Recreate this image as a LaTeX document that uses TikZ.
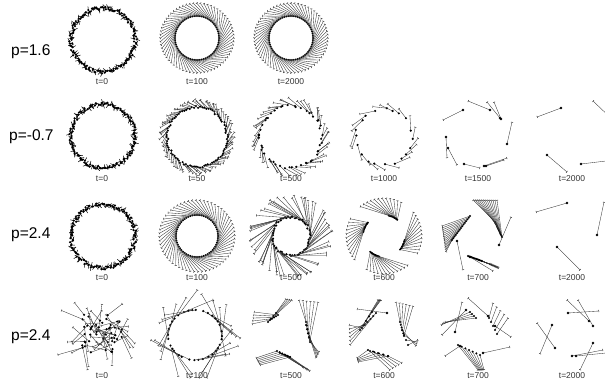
\documentclass[tikz,border=0pt]{standalone}
\usepackage{fontspec}
\setmainfont{Liberation Sans}
\usetikzlibrary{arrows.meta}
\tikzset{
  stick/.style={line width=0.35pt, draw=black!80, -{Bar[width=2.2pt,line width=0.5pt]}},
  fuzz/.style={line width=0.5pt, draw=black},
  plabel/.style={font=\fontsize{15.5}{18}\selectfont, anchor=west, inner sep=0pt},
  tlabel/.style={font=\fontsize{8.5}{10}\selectfont, text=black!80, inner sep=0pt}
}
% one pendulum: pivot (#1,#2), tip (#3,#4)
\newcommand{\pend}[4]{%
  \draw[stick] (#1,#2) -- (#3,#4);
  \fill (#1,#2) circle (1.3pt);}
% t=0 rings: cx cy
\newcommand{\noisyring}[2]{%
  \foreach \i in {1,...,150}{%
    \pgfmathsetmacro\ang{(360/150)*\i+1.5*rand}
    \pgfmathsetmacro\rdist{32+1.6*rand}
    \pgfmathsetmacro\sdir{360*rnd}
    \pgfmathsetmacro\px{#1+\rdist*cos(\ang)}
    \pgfmathsetmacro\py{#2+\rdist*sin(\ang)}
    \draw[fuzz] (\px,\py) -- ++({3.6*cos(\sdir)},{3.6*sin(\sdir)});
    \fill (\px,\py) circle (1.2pt);
  }}
% cx cy n rin rout twist
\newcommand{\spiralring}[6]{%
  \foreach \i in {1,...,#3}{%
    \pgfmathsetmacro\ang{(360/#3)*\i}
    \pgfmathsetmacro\px{#1+#4*cos(\ang)}
    \pgfmathsetmacro\py{#2+#4*sin(\ang)}
    \pgfmathsetmacro\tang{\ang-#6}
    \draw[stick] (\px,\py) -- ({#1+#5*cos(\tang)},{#2+#5*0.95*sin(\tang)});
    \fill (\px,\py) circle (1.1pt);
  }}
% cx cy n rin rout twist jitter
\newcommand{\jitterring}[7]{%
  \foreach \i in {1,...,#3}{%
    \pgfmathsetmacro\ang{(360/#3)*\i+#7*rand}
    \pgfmathsetmacro\rdist{#4+1.2*rand}
    \pgfmathsetmacro\px{#1+\rdist*cos(\ang)}
    \pgfmathsetmacro\py{#2+\rdist*sin(\ang)}
    \pgfmathsetmacro\tang{\ang-#6-0.2*#6*rand}
    \pgfmathsetmacro\trad{#5+2*rand}
    \draw[stick] (\px,\py) -- ({#1+\trad*cos(\tang)},{#2+\trad*sin(\tang)});
    \fill (\px,\py) circle (1.2pt);
  }}
% cx cy groups per rin rout twist base
\newcommand{\fanring}[8]{%
  \foreach \g in {1,...,#3}{%
    \foreach \k in {1,...,#4}{%
      \pgfmathsetmacro\ang{#8+(360/#3)*\g+\k*2.5+1.5*rand}
      \pgfmathsetmacro\px{#1+#5*cos(\ang)}
      \pgfmathsetmacro\py{#2+#5*sin(\ang)}
      \pgfmathsetmacro\tang{#8+(360/#3)*\g-#7+\k*6}
      \draw[stick] (\px,\py) -- ({#1+#6*cos(\tang)},{#2+#6*sin(\tang)});
      \fill (\px,\py) circle (1.1pt);
    }}}
% pivots p1->p2, tips t1->t2, count
\newcommand{\fan}[9]{%
  \foreach \k in {0,...,#9}{%
    \pgfmathsetmacro\ff{\k/#9}
    \pgfmathsetmacro\px{#1+(#3-#1)*\ff}
    \pgfmathsetmacro\py{#2+(#4-#2)*\ff}
    \draw[stick] (\px,\py) -- ({#5+(#7-#5)*\ff},{#6+(#8-#6)*\ff});
    \fill (\px,\py) circle (1.1pt);
  }}
% cx cy n r len
\newcommand{\longring}[5]{%
  \foreach \i in {1,...,#3}{%
    \pgfmathsetmacro\ang{(360/#3)*\i+4*rand}
    \pgfmathsetmacro\px{#1+#4*cos(\ang)}
    \pgfmathsetmacro\py{#2+#4*0.93*sin(\ang)}
    \pgfmathsetmacro\sdir{\ang+90+180*(rnd<0.5)+15*rand}
    \draw[stick] (\px,\py) -- ++({#5*cos(\sdir)},{#5*sin(\sdir)});
    \fill (\px,\py) circle (1.2pt);
  }}
% cx cy n sx sy len
\newcommand{\scatterpanel}[6]{%
  \foreach \i in {1,...,#3}{%
    \pgfmathsetmacro\px{#1+#4*rand}
    \pgfmathsetmacro\py{#2+#5*rand}
    \pgfmathsetmacro\sdir{360*rnd}
    \pgfmathsetmacro\slen{#6*(0.6+0.6*rnd)}
    \draw[stick] (\px,\py) -- ++({\slen*cos(\sdir)},{\slen*sin(\sdir)});
    \fill (\px,\py) circle (1.2pt);
  }}

\begin{document}
\begin{tikzpicture}[x=1pt,y=-1pt]
  \useasboundingbox (0,0) rectangle (605,385);
  \clip (0,0) rectangle (605,385);
  \pgfmathsetseed{42}

  % row labels
  \node[plabel] (p1) at (11,52) {p=1.6};
  \node[plabel] (p2) at (9,137) {p=-0.7};
  \node[plabel] (p3) at (11,235) {p=2.4};
  \node[plabel] (p4) at (11,337) {p=2.4};

  % p=1.6
  \noisyring{103}{40}
  \spiralring{197}{38}{64}{22}{37}{40}
  \spiralring{291}{38}{64}{22}{37}{40}
  \node[tlabel] (t11) at (102,82) {t=0};
  \node[tlabel] (t12) at (197,82) {t=100};
  \node[tlabel] (t13) at (291,82) {t=2000};

  % p=-0.7
  \noisyring{103}{136}
  \jitterring{197}{137}{90}{30}{36}{15}{0.5}
  \jitterring{291}{137}{50}{31}{38}{20}{6}
  \jitterring{384}{137}{20}{28}{33}{26}{6}
  \pend{463}{110}{443}{120}
  \pend{490}{110}{468}{101}
  \pend{500}{118}{487}{102}
  \pend{501}{119}{494}{102}
  \pend{507}{144}{512}{122}
  \pend{446}{137}{447}{158}
  \pend{448}{148}{457}{165}
  \pend{484}{166}{507}{158}
  \pend{486}{166}{504}{160}
  \pend{464}{164}{480}{168}
  \pend{561}{108}{537}{117}
  \pend{547}{155}{567}{172}
  \pend{581}{164}{606}{161}
  \pend{614}{121}{593}{101}
  \node[tlabel] (t21) at (102,179) {t=0};
  \node[tlabel] (t22) at (197,179) {t=50};
  \node[tlabel] (t23) at (291,179) {t=500};
  \node[tlabel] (t24) at (384,179) {t=1000};
  \node[tlabel] (t25) at (478,179) {t=1500};
  \node[tlabel] (t26) at (572,179) {t=2000};

  % p=2.4
  \noisyring{103}{236}
  \spiralring{197}{236}{60}{21}{38}{50}
  \jitterring{291}{236}{60}{19}{40}{58}{3}
  \fanring{384}{236}{4}{12}{21}{38}{55}{10}
  \fan{495}{222}{502}{237}{473}{200}{497}{200}{12}
  \pend{499}{245}{511}{217}
  \fan{470}{216}{452}{240}{442}{226}{446}{252}{14}
  \pend{457}{241}{463}{270}
  \fan{468}{256}{482}{261}{490}{264}{499}{268}{12}
  \pend{470}{257}{493}{271}
  \pend{567}{203}{536}{212}
  \pend{557}{247}{580}{270}
  \pend{597}{235}{604}{202}
  \node[tlabel] (t31) at (102,278) {t=0};
  \node[tlabel] (t32) at (197,278) {t=100};
  \node[tlabel] (t33) at (291,278) {t=500};
  \node[tlabel] (t34) at (384,278) {t=600};
  \node[tlabel] (t35) at (478,278) {t=700};
  \node[tlabel] (t36) at (572,278) {t=2000};

  % p=2.4, second run
  \scatterpanel{102}{333}{50}{20}{20}{22}
  \longring{195}{335}{34}{27}{32}
  \fan{268}{322}{276}{313}{292}{300}{286}{299}{3}
  \fan{270}{320}{278}{315}{252}{324}{254}{312}{4}
  \fan{306}{322}{310}{340}{299}{300}{318}{302}{5}
  \fan{306}{325}{310}{342}{316}{358}{319}{352}{4}
  \fan{277}{351}{290}{357}{256}{358}{260}{365}{5}
  \fan{280}{353}{290}{357}{303}{367}{310}{371}{5}
  \fan{360}{330}{372}{312}{378}{300}{381}{300}{4}
  \fan{362}{328}{376}{313}{349}{325}{350}{345}{5}
  \pend{387}{313}{357}{309}
  \fan{400}{322}{404}{336}{396}{302}{413}{306}{5}
  \fan{402}{330}{408}{345}{416}{346}{418}{340}{3}
  \fan{368}{350}{388}{356}{357}{358}{358}{362}{4}
  \fan{370}{351}{388}{356}{390}{370}{402}{363}{4}
  \pend{455}{332}{462}{302}
  \pend{466}{310}{442}{335}
  \fan{470}{312}{476}{318}{441}{325}{445}{322}{3}
  \fan{489}{318}{497}{334}{493}{303}{508}{318}{4}
  \pend{488}{316}{468}{298}
  \pend{495}{326}{511}{337}
  \fan{458}{345}{480}{355}{478}{370}{484}{370}{6}
  \pend{483}{353}{510}{347}
  \pend{460}{346}{445}{356}
  \pend{568}{313}{599}{311}
  \pend{589}{321}{567}{300}
  \pend{593}{326}{578}{300}
  \pend{552}{325}{540}{354}
  \pend{555}{348}{537}{323}
  \pend{593}{343}{580}{370}
  \pend{572}{356}{603}{350}
  \pend{576}{356}{606}{353}
  \node[tlabel] (t41) at (102,376) {t=0};
  \node[tlabel] (t42) at (197,376) {t=100};
  \node[tlabel] (t43) at (291,376) {t=500};
  \node[tlabel] (t44) at (384,376) {t=600};
  \node[tlabel] (t45) at (478,376) {t=700};
  \node[tlabel] (t46) at (572,376) {t=2000};
\end{tikzpicture}
\end{document}
